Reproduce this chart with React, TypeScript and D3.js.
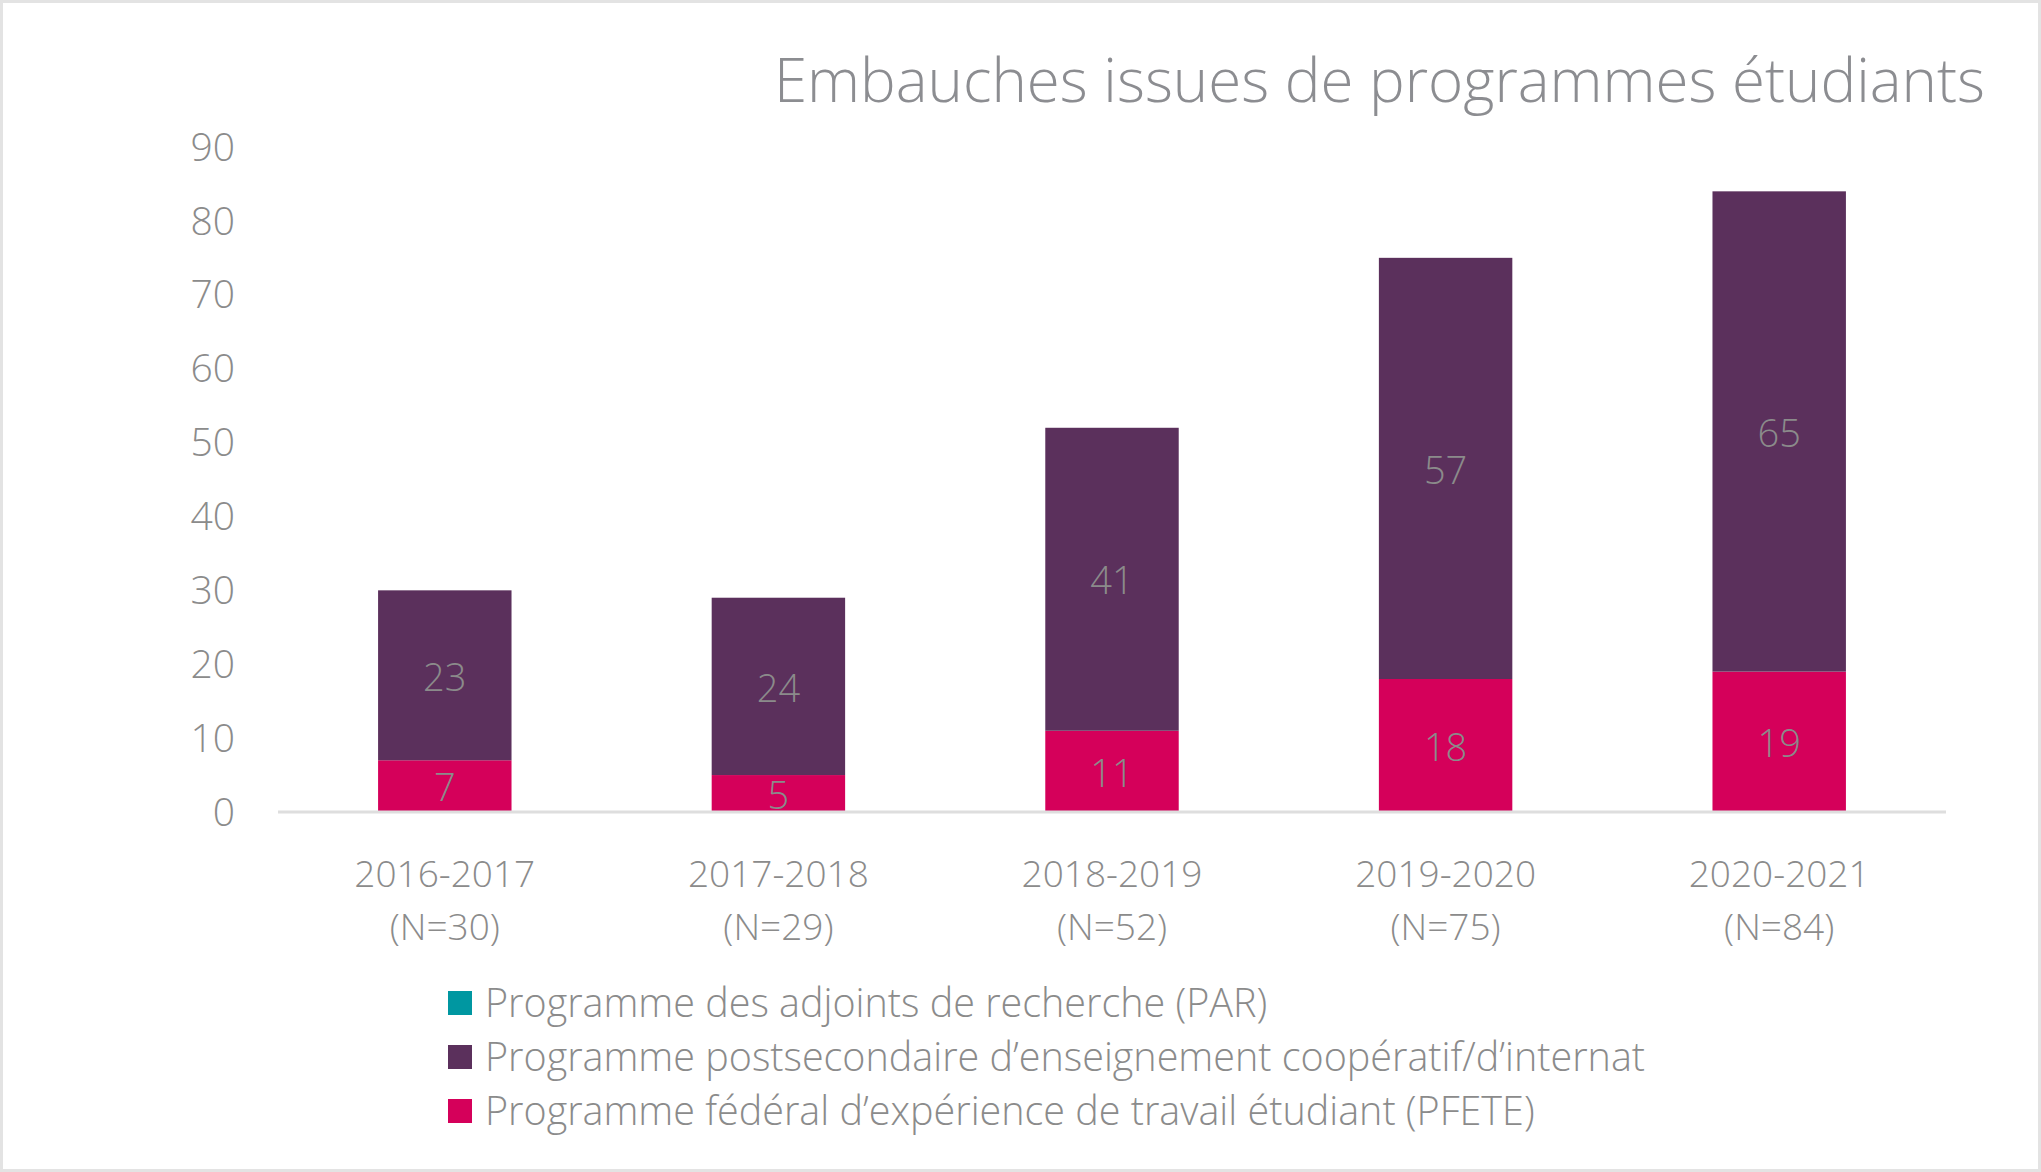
import { useEffect } from 'react';
import * as d3 from 'd3';

const categories = ['2016-2017', '2017-2018', '2018-2019', '2019-2020', '2020-2021'];
const totals = ['(N=30)', '(N=29)', '(N=52)', '(N=75)', '(N=84)'];
const pfete = [7, 5, 11, 18, 19];
const coop = [23, 24, 41, 57, 65];
const par = [0, 0, 0, 0, 0];
const yTicks = [0, 10, 20, 30, 40, 50, 60, 70, 80, 90];

const seriesNames = [
  'Programme des adjoints de recherche (PAR)',
  'Programme postsecondaire d\u2019enseignement coopératif/d\u2019internat',
  'Programme fédéral d\u2019expérience de travail étudiant (PFETE)',
];
const seriesColors = ['#0097a1', '#5b305c', '#d5005a'];

const width = 2041;
const height = 1172;
const font = '"Open Sans", "Noto Sans", sans-serif';
const textColor = '#8b8b8b';

export default function App() {
  useEffect(() => {
    document.body.style.margin = '0';
  }, []);

  const x = d3.scaleBand(categories, [278, 1946]).paddingInner(0.6).paddingOuter(0.3);
  const y = d3.scaleLinear([0, 90], [812, 147]);

  // stacking order: PFETE at bottom, then coop, then PAR
  const rows = categories.map((c, i) => ({ cat: c, pfete: pfete[i], coop: coop[i], par: par[i] }));
  const stack = d3.stack<any>().keys(['pfete', 'coop', 'par'])(rows);
  const colorByKey: Record<string, string> = {
    pfete: seriesColors[2],
    coop: seriesColors[1],
    par: seriesColors[0],
  };

  return (
    <svg width={width} height={height} style={{ display: 'block' }} fontFamily={font}>
      <rect x={1.5} y={1.5} width={width - 3} height={height - 3} fill="#fff" stroke="#e3e3e3" strokeWidth={3} />

      <text x={1985} y={102} textAnchor="end" fontSize={60} fontWeight={300} fill="#8c8d91">
        Embauches issues de programmes étudiants
      </text>

      {yTicks.map((t) => (
        <text key={t} x={235} y={y(t)} dy="0.35em" textAnchor="end" fontSize={39} fontWeight={300} fill={textColor}>
          {t}
        </text>
      ))}

      {stack.map((layer) => (
        <g key={layer.key} fill={colorByKey[layer.key]}>
          {layer.map((d, i) => (
            <rect
              key={i}
              x={x(categories[i])}
              y={y(d[1])}
              width={x.bandwidth()}
              height={y(d[0]) - y(d[1])}
            />
          ))}
        </g>
      ))}

      <line x1={278} x2={1946} y1={812} y2={812} stroke="#dedede" strokeWidth={3} />

      {stack
        .filter((layer) => layer.key !== 'par')
        .map((layer) => (
          <g key={layer.key}>
            {layer.map((d, i) => (
              <text
                key={i}
                x={x(categories[i])! + x.bandwidth() / 2}
                y={y((d[0] + d[1]) / 2)}
                dy="0.4em"
                textAnchor="middle"
                fontSize={38}
                fontWeight={300}
                fill={textColor}
              >
                {d[1] - d[0]}
              </text>
            ))}
          </g>
        ))}

      {categories.map((c, i) => (
        <g key={c} fontSize={37} fontWeight={300} fill={textColor} textAnchor="middle">
          <text x={x(c)! + x.bandwidth() / 2} y={887}>{c}</text>
          <text x={x(c)! + x.bandwidth() / 2} y={940}>{totals[i]}</text>
        </g>
      ))}

      {seriesNames.map((name, i) => (
        <g key={name} transform={`translate(448,${1003 + i * 54})`}>
          <rect x={0} y={-12} width={24} height={24} fill={seriesColors[i]} />
          <text x={37} y={0} dy="0.35em" fontSize={39.5} fontWeight={300} fill={textColor}>
            {name}
          </text>
        </g>
      ))}
    </svg>
  );
}
